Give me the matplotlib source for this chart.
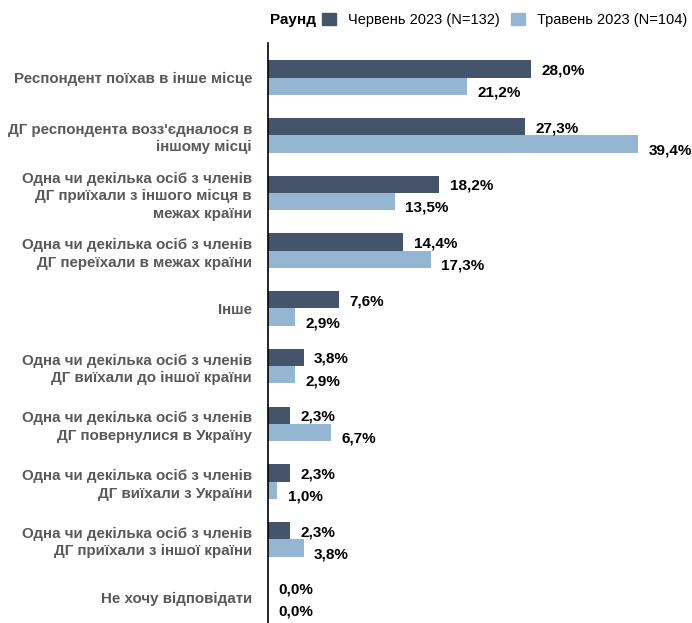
import numpy as np
import matplotlib.pyplot as plt
from matplotlib.patches import Patch

plt.rcParams['font.family'] = ['Liberation Sans', 'DejaVu Sans']

categories = [
    "Респондент поїхав в інше місце",
    "ДГ респондента возз'єдналося в\nіншому місці",
    "Одна чи декілька осіб з членів\nДГ приїхали з іншого місця в\nмежах країни",
    "Одна чи декілька осіб з членів\nДГ переїхали в межах країни",
    "Інше",
    "Одна чи декілька осіб з членів\nДГ виїхали до іншої країни",
    "Одна чи декілька осіб з членів\nДГ повернулися в Україну",
    "Одна чи декілька осіб з членів\nДГ виїхали з України",
    "Одна чи декілька осіб з членів\nДГ приїхали з іншої країни",
    "Не хочу відповідати",
]
june = [28.0, 27.3, 18.2, 14.4, 7.6, 3.8, 2.3, 2.3, 2.3, 0.0]
may = [21.2, 39.4, 13.5, 17.3, 2.9, 2.9, 6.7, 1.0, 3.8, 0.0]
series_names = ["Червень 2023 (N=132)", "Травень 2023 (N=104)"]

dark = "#44546A"
light = "#94B6D2"

fig = plt.figure(figsize=(6.92, 6.23), dpi=100)
ax = fig.add_axes([268 / 692, 0, 1 - 268 / 692, 1 - 43 / 623])

y = np.arange(len(categories))
h = 0.3
ax.barh(y - h / 2, june, height=h, color=dark)
ax.barh(y + h / 2, may, height=h, color=light)

for yi, v in zip(y, june):
    ax.annotate(f"{v:.1f}%".replace(".", ","), (v, yi - h / 2), xytext=(7.5, -1),
                textcoords="offset points", va="center", ha="left",
                fontsize=11, fontweight="bold", color="black")
for yi, v in zip(y, may):
    ax.annotate(f"{v:.1f}%".replace(".", ","), (v, yi + h / 2), xytext=(7.5, -4.5),
                textcoords="offset points", va="center", ha="left",
                fontsize=11, fontweight="bold", color="black")

ax.set_xlim(0, 45.1)
ax.set_ylim(9.45, -0.6)
ax.set_yticks(y)
ax.set_yticklabels(categories, fontsize=10.9, fontweight="bold", color="#595959",
                   linespacing=1.32)
ax.tick_params(axis="y", length=0, pad=11.5)
ax.set_xticks([])
for s in ["top", "right", "bottom"]:
    ax.spines[s].set_visible(False)
ax.spines["left"].set_linewidth(1.2)
ax.spines["left"].set_color("black")

fig.text(270 / 692, 1 - 20 / 623, "Раунд", fontsize=11, fontweight="bold",
         va="center", ha="left")
handles = [Patch(color=dark), Patch(color=light)]
fig.legend(handles, series_names, loc="center left",
           bbox_to_anchor=(322 / 692, 1 - 20 / 623), ncol=2, frameon=False,
           fontsize=10.5, handlelength=0.95, handleheight=0.95,
           handletextpad=0.85, columnspacing=0.75, borderaxespad=0, borderpad=0)

fig.savefig("out.png", dpi=100)
